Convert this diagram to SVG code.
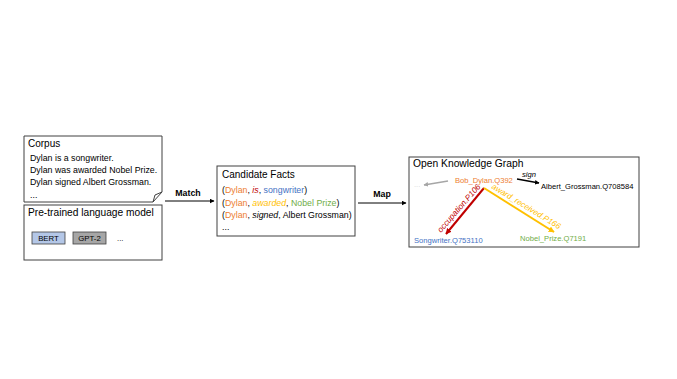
<svg xmlns="http://www.w3.org/2000/svg" width="677" height="379" viewBox="0 0 677 379">
<style>
text{font-family:"Liberation Sans",Arial,sans-serif;fill:#000}
.box{fill:#fff;stroke:#404040;stroke-width:1}
.ttl{font-size:10px}
.body{font-size:8.8px}
.kg{font-size:7.6px}
.rl{font-size:8.2px;font-style:italic}
.lab{font-size:8.8px;font-weight:bold}
.o{fill:#ed7d31}.b{fill:#4472c4}.r{fill:#c00000}.y{fill:#ffc000}.g{fill:#70ad47}
</style>
<defs>
<marker id="ah" viewBox="0 0 10 10" refX="9" refY="5" markerWidth="5" markerHeight="5" orient="auto"><path d="M0,0 L10,5 L0,10 z" fill="#000"/></marker>
<marker id="ahr" viewBox="0 0 10 10" refX="9" refY="5" markerWidth="3" markerHeight="3" orient="auto"><path d="M0,0 L10,5 L0,10 z" fill="#c00000"/></marker>
<marker id="ahy" viewBox="0 0 10 10" refX="9" refY="5" markerWidth="3" markerHeight="3" orient="auto"><path d="M0,0 L10,5 L0,10 z" fill="#ffc000"/></marker>
<marker id="ahg" viewBox="0 0 10 10" refX="9" refY="5" markerWidth="3" markerHeight="3" orient="auto"><path d="M0,0 L10,5 L0,10 z" fill="#a6a6a6"/></marker>
<marker id="ahk" viewBox="0 0 10 10" refX="9" refY="5" markerWidth="3" markerHeight="3" orient="auto"><path d="M0,0 L10,5 L0,10 z" fill="#000"/></marker>
</defs>
<rect width="677" height="379" fill="#fff"/>

<g id="corpus">
<path class="box" d="M24,136 H162 V192 L153,202 H24 Z"/>
<path d="M153,202 L155,195 L162,192" fill="none" stroke="#404040" stroke-width="1"/>
<text class="ttl" x="28" y="147">Corpus</text>
<text class="body" x="30" y="161">Dylan is a songwriter.</text>
<text class="body" x="30" y="173">Dylan was awarded Nobel Prize.</text>
<text class="body" x="30" y="185">Dylan signed Albert Grossman.</text>
<text class="body" x="30" y="198">...</text>
</g>

<g id="plm">
<rect class="box" x="24" y="205" width="138" height="55"/>
<text x="28" y="216" font-size="10.2">Pre-trained language model</text>
<rect x="32" y="232" width="33" height="12" fill="#b4c7e7" stroke="#404040" stroke-width="0.8"/>
<text x="48.5" y="241" font-size="7.8" text-anchor="middle">BERT</text>
<rect x="73" y="232" width="33" height="12" fill="#a6a6a6" stroke="#404040" stroke-width="0.8"/>
<text x="89.5" y="241" font-size="7.8" text-anchor="middle">GPT-2</text>
<text x="117" y="241" font-size="7.8">...</text>
</g>

<g id="facts">
<rect class="box" x="217" y="166" width="138" height="70"/>
<text class="ttl" x="222" y="178">Candidate Facts</text>
<text class="body" x="222" y="193">(<tspan class="o">Dylan</tspan>, <tspan class="r" font-style="italic">is</tspan>, <tspan class="b">songwriter</tspan>)</text>
<text class="body" x="222" y="206">(<tspan class="o">Dylan</tspan>, <tspan class="y" font-style="italic">awarded</tspan>, <tspan class="g">Nobel Prize</tspan>)</text>
<text class="body" x="222" y="218">(<tspan class="o">Dylan</tspan>, <tspan font-style="italic">signed</tspan>, Albert Grossman)</text>
<text class="body" x="222" y="230">...</text>
</g>

<g id="kg">
<rect class="box" x="409" y="157" width="230" height="90"/>
<text x="413" y="167" font-size="10.3">Open Knowledge Graph</text>
<text class="kg o" x="455" y="183">Bob_Dylan.Q392</text>
<text class="kg" x="541" y="189">Albert_Grossman.Q708584</text>
<text class="kg b" x="414" y="243">Songwriter.Q753110</text>
<text class="kg g" x="520" y="241">Nobel_Prize.Q7191</text>
<text class="kg" x="414" y="187" style="fill:#d9d9d9">...</text>
<text class="kg" x="522" y="177" font-style="italic">sign</text>
<text class="rl r" transform="translate(441,233) rotate(-49)">occupation.P106</text>
<text class="rl y" transform="translate(491,188) rotate(31.5)">award_received.P166</text>
</g>

<g id="connectors">
<line x1="165" y1="201" x2="214" y2="201" stroke="#000" stroke-width="1" marker-end="url(#ah)"/>
<text class="lab" x="188" y="196" text-anchor="middle">Match</text>
<line x1="358" y1="203" x2="406" y2="203" stroke="#000" stroke-width="1" marker-end="url(#ah)"/>
<text class="lab" x="382" y="197" text-anchor="middle">Map</text>
<line x1="448" y1="181" x2="424" y2="185" stroke="#a6a6a6" stroke-width="1.5" marker-end="url(#ahg)"/>
<line x1="517" y1="179" x2="539" y2="183" stroke="#000" stroke-width="1.5" marker-end="url(#ahk)"/>
<line x1="484" y1="188" x2="446" y2="234" stroke="#c00000" stroke-width="2" marker-end="url(#ahr)"/>
<line x1="484" y1="188" x2="554" y2="232" stroke="#ffc000" stroke-width="2" marker-end="url(#ahy)"/>
</g>
</svg>
